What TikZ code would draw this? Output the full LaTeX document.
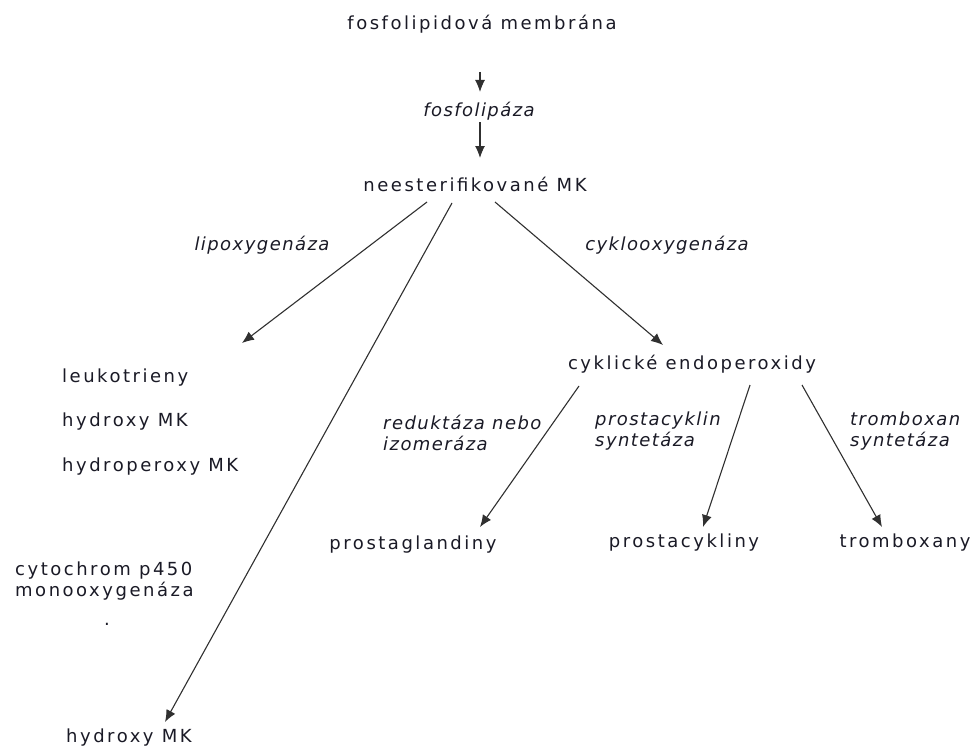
\documentclass[tikz,border=0pt]{standalone}
\usepackage{fontspec}
\usetikzlibrary{arrows.meta,calc}
\newfontfamily\upf{DejaVu Sans}[LetterSpace=14]
\newfontfamily\itf{DejaVu Sans}[LetterSpace=8]
\definecolor{txt}{HTML}{1A1A26}
\definecolor{ln}{HTML}{303030}
\begin{document}
\begin{tikzpicture}[x=1pt,y=-1pt,
  lbl/.style={inner sep=0pt, font=\upf\fontsize{18}{21}\selectfont, text=txt},
  enz/.style={inner sep=0pt, font=\itf\itshape\fontsize{18}{21}\selectfont, text=txt},
  arr/.style={draw=ln, line width=1.1pt, -{Latex[length=12pt,width=10pt]}}]
\useasboundingbox[fill=white] (0,0) rectangle (976,749);

\node[lbl] (mem) at (482,24) {fosfolipidová membrána};
\node[enz] (fos) at (479,111) {fosfolipáza};
\node[lbl] (neest) at (475,184) {neesterifikované MK};
\node[enz] (lipo) at (262,245) {lipoxygenáza};
\node[enz] (cyklo) at (667,245) {cyklooxygenáza};
\node[lbl] (cykl) at (692,364) {cyklické endoperoxidy};

\node[lbl, anchor=west] (leuk) at (62,378) {leukotrieny};
\node[lbl, anchor=west] (hyd1) at (62,422) {hydroxy MK};
\node[lbl, anchor=west] (hydper) at (62,467) {hydroperoxy MK};
\node[lbl, anchor=west, align=left] (cyt) at (15,581) {cytochrom p450\\monooxygenáza};
\node[lbl] (dot) at (107,624) {.};
\node[lbl, anchor=west] (hyd2) at (66,738) {hydroxy MK};

\node[enz, anchor=west, align=left] (red) at (383,433) {reduktáza nebo\\izomeráza};
\node[enz, anchor=west, align=left] (psc) at (595,431) {prostacyklin\\syntetáza};
\node[enz, anchor=west, align=left] (trs) at (850,431) {tromboxan\\syntetáza};

\node[lbl] (pg) at (413,545) {prostaglandiny};
\node[lbl] (pc) at (684,543) {prostacykliny};
\node[lbl] (tx) at (905,543) {tromboxany};

\draw[arr] ($(mem.center)+(-2,48)$) -- ($(fos.center)+(1,-19)$);
\draw[arr] ($(fos.center)+(1,11)$) -- ($(neest.center)+(5,-26)$);
\draw[arr] ($(neest.center)+(-48,18)$) -- ($(leuk.west)+(180,-35)$);
\draw[arr] ($(neest.center)+(-23,19)$) -- ($(hyd2.west)+(99,-16)$);
\draw[arr] ($(neest.center)+(20,18)$) -- ($(cykl.center)+(-29,-19)$);
\draw[arr] ($(cykl.center)+(-113,22)$) -- ($(pg.center)+(67,-18)$);
\draw[arr] ($(cykl.center)+(58,21)$) -- ($(pc.center)+(19,-16)$);
\draw[arr] ($(cykl.center)+(110,21)$) -- ($(tx.center)+(-23,-16)$);
\end{tikzpicture}
\end{document}
